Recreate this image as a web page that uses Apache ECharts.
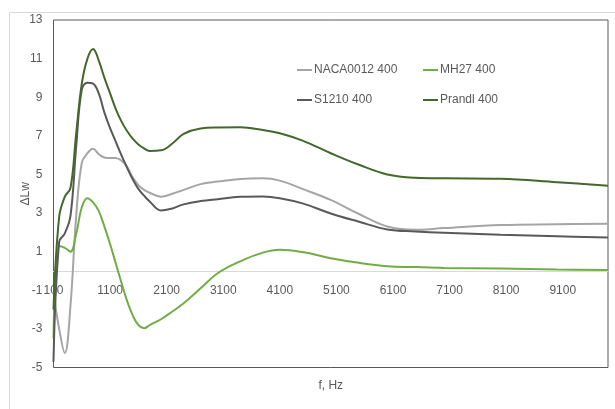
<!DOCTYPE html>
<html>
<head>
<meta charset="utf-8">
<script src="https://cdn.jsdelivr.net/npm/echarts@6/dist/echarts.min.js"></script>
<style>
  html, body { margin: 0; padding: 0; background: #fff; }
  #main { width: 615px; height: 409px; }
</style>
</head>
<body>
<div id="main"></div>
<script>
// frequencies, Hz
var freq = [100, 200, 300, 400, 500, 600, 700, 800, 900, 1000, 1100, 1200, 1300, 1400, 1500, 1600, 1700, 1800,
    2000, 2200, 2400, 2700, 3000, 3400, 3800, 4100, 4500, 5000, 5500, 6000, 6500, 7000, 8000, 9000, 9900];

var naca = [-1.1, -3.0, -4.25, -1.8, 2.8, 5.6, 6.1, 6.33, 6.05, 5.88, 5.85, 5.85, 5.72, 5.4, 4.85, 4.45, 4.2, 4.05,
    3.85, 4.0, 4.2, 4.5, 4.63, 4.77, 4.8, 4.68, 4.25, 3.68, 2.95, 2.3, 2.13, 2.22, 2.38, 2.42, 2.44];
var mh27 = [-3.5, 1.3, 1.2, 1.0, 1.9, 3.3, 3.77, 3.55, 3.1, 2.3, 1.4, 0.4, -0.6, -1.55, -2.3, -2.8, -2.97, -2.8,
    -2.5, -2.1, -1.67, -0.9, -0.12, 0.5, 0.95, 1.1, 0.98, 0.66, 0.42, 0.25, 0.2, 0.16, 0.13, 0.08, 0.05];
var s1210 = [-4.7, 1.5, 1.95, 2.85, 6.4, 9.4, 9.75, 9.7, 9.2, 8.2, 7.4, 6.7, 6.0, 5.35, 4.75, 4.25, 3.9, 3.6,
    3.13, 3.24, 3.45, 3.62, 3.72, 3.84, 3.86, 3.77, 3.5, 2.98, 2.55, 2.15, 2.05, 1.98, 1.88, 1.8, 1.73];
var prandl = [-2.0, 2.8, 3.85, 4.3, 7.1, 9.7, 11.0, 11.5, 10.9, 10.0, 9.2, 8.4, 7.75, 7.25, 6.85, 6.55, 6.35, 6.22,
    6.25, 6.6, 7.1, 7.38, 7.43, 7.44, 7.3, 7.13, 6.75, 6.1, 5.5, 5.0, 4.83, 4.8, 4.78, 4.6, 4.42];

var names = ['NACA0012 400', 'MH27 400', 'S1210 400', 'Prandl 400'];
var colors = ['#a5a5a5', '#70ad47', '#595959', '#43682b'];
var values = [naca, mh27, s1210, prandl];

var font = 'Liberation Sans, Arial, sans-serif';
var txt = '#595959';

function pairs(ys) {
    return freq.map(function (f, i) { return [f, ys[i]]; });
}

function legendAt(name, left, top) {
    return {
        data: [name],
        left: left,
        top: top,
        icon: 'rect',
        itemWidth: 15,
        itemHeight: 2,
        itemGap: 0,
        textStyle: { color: txt, fontSize: 12, fontFamily: font, padding: [0, 0, 0, -3] },
        selectedMode: false
    };
}

var myChart = echarts.init(document.getElementById('main'));
option = {
    animation: false,
    graphic: [{
        type: 'rect',
        shape: { x: 9.5, y: 12.5, width: 700, height: 500 },
        style: { fill: 'none', stroke: '#d9d9d9', lineWidth: 1 },
        silent: true
    }],
    legend: [
        legendAt(names[0], 292, 59),
        legendAt(names[1], 418, 59),
        legendAt(names[2], 292, 89),
        legendAt(names[3], 418, 89)
    ],
    grid: {
        left: 53.5,
        right: 7,
        top: 20,
        bottom: 41.5,
        containLabel: false,
        outerBoundsMode: 'none',
        show: true,
        borderColor: '#595959',
        borderWidth: 1
    },
    xAxis: {
        type: 'value',
        min: 100,
        max: 9900,
        interval: 1000,
        name: 'f, Hz',
        nameLocation: 'middle',
        nameGap: 12,
        nameTextStyle: { color: txt, fontSize: 12, fontFamily: font },
        axisLine: { onZero: true, lineStyle: { color: '#d9d9d9' } },
        axisTick: { show: false },
        splitLine: { show: false },
        axisLabel: {
            color: txt, fontSize: 12, fontFamily: font, margin: -83, showMaxLabel: false,
            formatter: function (v) { return String(v); }
        }
    },
    yAxis: {
        type: 'value',
        min: -5,
        max: 13,
        interval: 2,
        name: 'ΔLw',
        nameLocation: 'middle',
        nameGap: 22,
        nameMoveOverlap: false,
        nameTextStyle: { color: txt, fontSize: 12, fontFamily: font },
        axisLine: { show: false },
        axisTick: { show: false },
        splitLine: { show: false },
        axisLabel: {
            color: txt, fontSize: 12, fontFamily: font, margin: 11,
            formatter: function (v) { return String(v); }
        }
    },
    series: names.map(function (n, i) {
        return {
            name: n,
            type: 'line',
            data: pairs(values[i]),
            smooth: 0.4,
            showSymbol: false,
            color: colors[i],
            lineStyle: { width: 2, color: colors[i] }
        };
    })
};

myChart.setOption(option);
</script>
</body>
</html>
